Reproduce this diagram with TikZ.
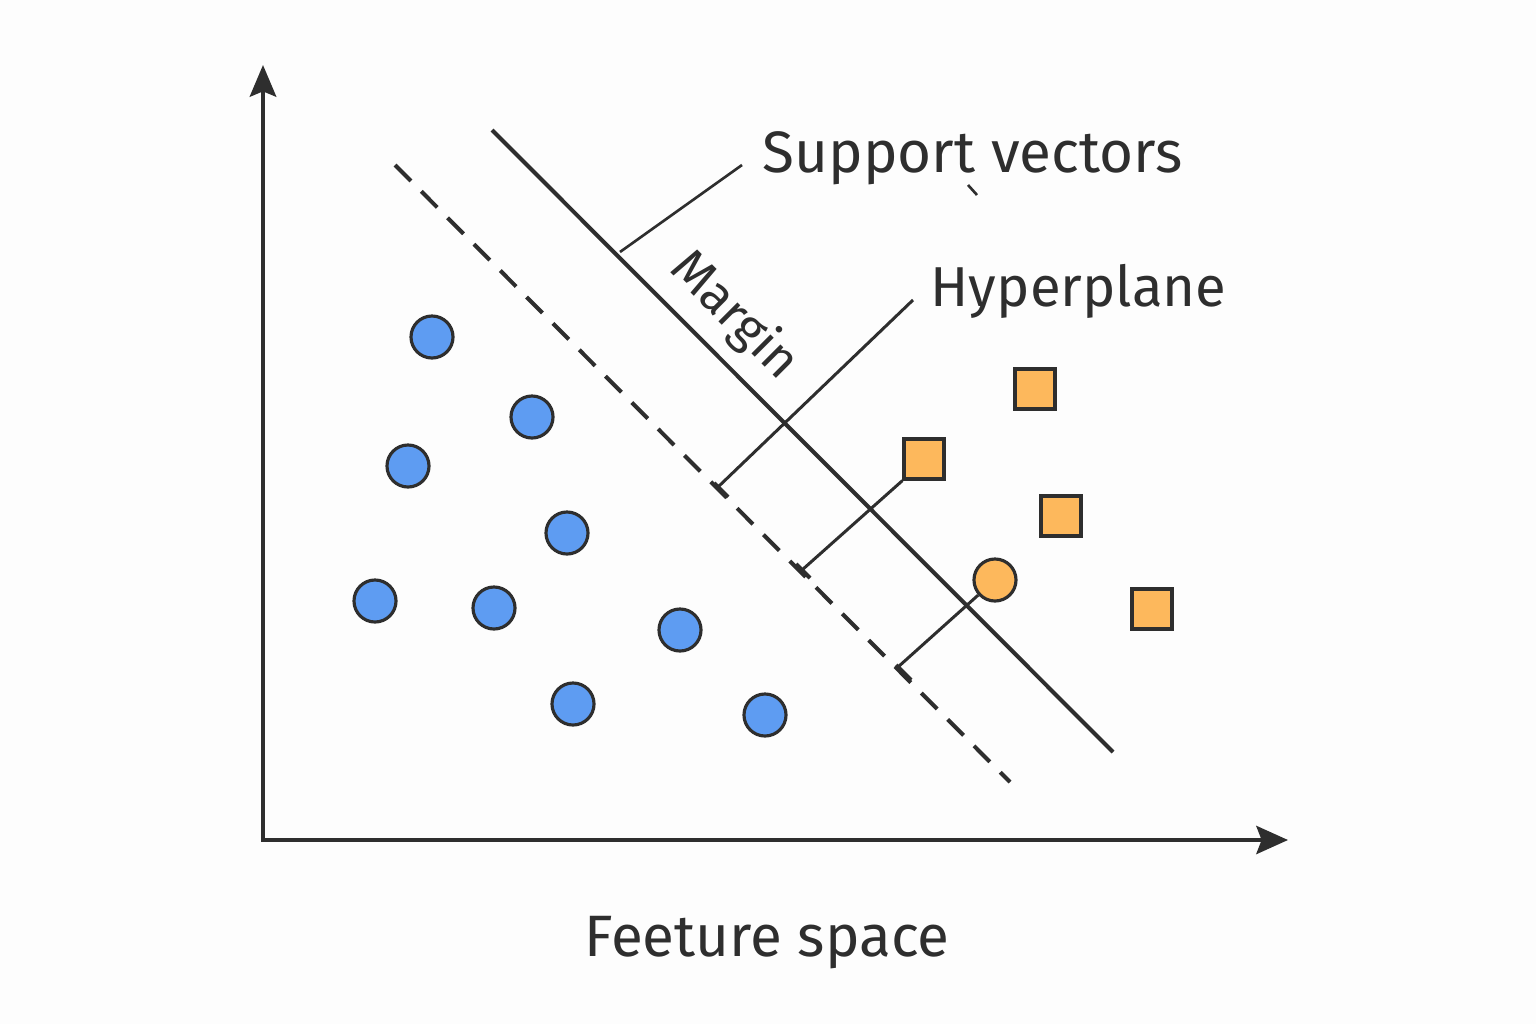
\documentclass[tikz,border=0pt]{standalone}
\usepackage{fontspec}
\setmainfont{Fira Sans}
\usetikzlibrary{arrows.meta,calc}
\definecolor{ink}{HTML}{2E2E2E}
\definecolor{blueP}{HTML}{5E9CF2}
\definecolor{orangeP}{HTML}{FDB85C}
\definecolor{bg}{HTML}{FDFDFD}
\begin{document}
\begin{tikzpicture}[x=0.01cm,y=-0.01cm,
 axis/.style={draw=ink,line width=1.15pt,line join=miter,{Stealth[length=9pt,width=7.5pt,inset=1.5pt]}-{Stealth[length=9pt,width=8pt,inset=1.5pt]}},
 hyper/.style={draw=ink,line width=1.15pt},
 marg/.style={draw=ink,line width=1.15pt,dash pattern=on 6.4pt off 4.2pt},
 perp/.style={draw=ink,line width=0.85pt},
 tickm/.style={draw=ink,line width=1.15pt},
 leader/.style={draw=ink,line width=0.75pt},
 bpt/.style={circle,draw=ink,fill=blueP,line width=0.9pt,minimum size=0.42cm,inner sep=0pt},
 opt/.style={circle,draw=ink,fill=orangeP,line width=0.9pt,minimum size=0.42cm,inner sep=0pt},
 osq/.style={rectangle,draw=ink,fill=orangeP,line width=0.9pt,minimum size=0.40cm,inner sep=0pt},
 lbl/.style={text=ink,inner sep=0pt}
]
\fill[bg] (0,0) rectangle (1536,1024);
\useasboundingbox (0,0) rectangle (1536,1024);

% axes
\coordinate (O) at (263,840);
\coordinate (Ytip) at (263,65);
\coordinate (Xtip) at (1288,840);
\draw[axis] (Ytip) -- (O) -- (Xtip);

% hyperplane and margin
\coordinate (H1) at (492,130);
\coordinate (H2) at (1113,752);
\coordinate (M1) at (395,165);
\coordinate (M2) at (1010,782);
\draw[hyper] (H1) -- (H2);
\draw[marg] (M1) -- (M2);

% blue points
\node[bpt] (b1) at (432,337) {};
\node[bpt] (b2) at (532,417) {};
\node[bpt] (b3) at (408,466) {};
\node[bpt] (b4) at (567,533) {};
\node[bpt] (b5) at (375,601) {};
\node[bpt] (b6) at (494,608) {};
\node[bpt] (b7) at (680,630) {};
\node[bpt] (b8) at (573,704) {};
\node[bpt] (b9) at (765,715) {};

% orange points
\node[osq] (s1) at (1035,389) {};
\node[osq] (s2) at (924,459) {};
\node[osq] (s3) at (1061,516) {};
\node[osq] (s4) at (1152,609) {};
\node[opt] (oc) at (995,580) {};

% perpendicular distances
\coordinate (p0) at (718,487);
\coordinate (p1) at (802,570);
\coordinate (p2) at (898,667);
\draw[perp] (s2.south west) -- (p1);
\draw[perp] (oc) -- (p2);
\draw[tickm] ($(p1)+(-6,-6)$) -- ($(p1)+(8,8)$);
\draw[tickm] ($(p2)+(-2,-2)$) -- ($(p2)+(13,13)$);
\draw[tickm] ($(p0)+(-4,-4)$) -- ($(p0)+(10,10)$);

% labels and leaders
\coordinate (svA) at (620,252);
\coordinate (svB) at (742,165);
\draw[leader] (svA) -- (svB);
\node[lbl,font=\fontsize{16.6pt}{20pt}\selectfont,anchor=base west] (svlbl) at (762,172) {Support vectors};
\draw[leader] (968,185) -- (977,195);

\coordinate (hpB) at (913,300);
\draw[perp] (hpB) -- (p0);
\node[lbl,font=\fontsize{16pt}{20pt}\selectfont,anchor=base west] (hplbl) at (930,306) {Hyperplane};

\node[lbl,font=\fontsize{14.5pt}{17pt}\selectfont,rotate=-45] (mlbl) at (734,316) {Margin};

\node[lbl,font=\fontsize{16.6pt}{20pt}\selectfont,anchor=base] (fslbl) at (767,956) {Feeture space};
\end{tikzpicture}
\end{document}
